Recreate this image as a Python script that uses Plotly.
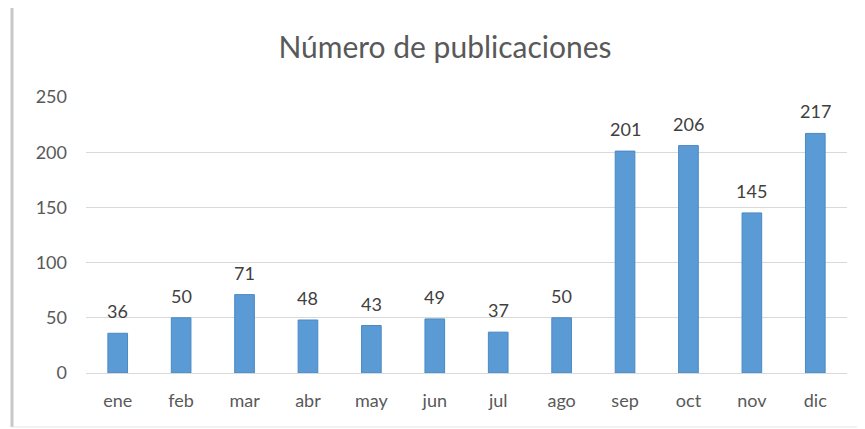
import plotly.graph_objects as go

months = ["ene", "feb", "mar", "abr", "may", "jun", "jul", "ago", "sep", "oct", "nov", "dic"]
values = [36, 50, 71, 48, 43, 49, 37, 50, 201, 206, 145, 217]
y_ticks = [0, 50, 100, 150, 200, 250]

FONT = "Lato, Carlito, Calibri, sans-serif"

fig = go.Figure(go.Bar(
    x=months, y=values,
    marker=dict(color="#5B9BD5", line=dict(color="#4A89C4", width=1)),
))

for m, v in zip(months, values):
    fig.add_annotation(x=m, y=v, text=str(v), showarrow=False, yanchor="bottom", yshift=9,
                       font=dict(family=FONT, size=18, color="#404040"))

# page body has an 8px offset
OFF = 8
W, H = 865, 429
ml, mr, mt, mb = 86 - OFF, W - (847 - OFF), 97 - OFF, H - (373 - OFF)
pw, ph = W - ml - mr, H - mt - mb

def px(x):
    return (x - OFF - ml) / pw

def py(y):
    return 1 - (y - OFF - mt) / ph

fig.update_layout(
    width=W, height=H,
    margin=dict(l=ml, r=mr, t=mt, b=mb),
    paper_bgcolor="white", plot_bgcolor="white",
    bargap=0.69,
    showlegend=False,
    title=dict(text="Número de publicaciones", x=(445 - OFF) / W, xref="container", xanchor="center",
               y=1 - (47 - OFF) / H, yref="container", yanchor="middle",
               font=dict(family=FONT, size=30, color="#595959")),
    xaxis=dict(showgrid=False, showline=False, ticks="", ticklabelstandoff=15,
               tickfont=dict(family=FONT, size=18, color="#595959")),
    yaxis=dict(range=[0, 250], tickvals=y_ticks, showgrid=True, gridcolor="#D9D9D9", gridwidth=1,
               zeroline=True, zerolinecolor="#D9D9D9", zerolinewidth=1, ticks="",
               ticklabelstandoff=18,
               tickfont=dict(family=FONT, size=18, color="#595959")),
    shapes=[
        dict(type="line", xref="paper", yref="paper",
             x0=px(12), x1=px(12), y0=py(6), y1=py(427),
             line=dict(color="#C8C8C8", width=3)),
        dict(type="line", xref="paper", yref="paper",
             x0=px(12), x1=px(866), y0=py(6), y1=py(6),
             line=dict(color="#E6E6E6", width=2)),
        dict(type="line", xref="paper", yref="paper",
             x0=px(12), x1=px(866), y0=py(427), y1=py(427),
             line=dict(color="#E6E6E6", width=1)),
    ],
)

fig.write_html("out.html")
